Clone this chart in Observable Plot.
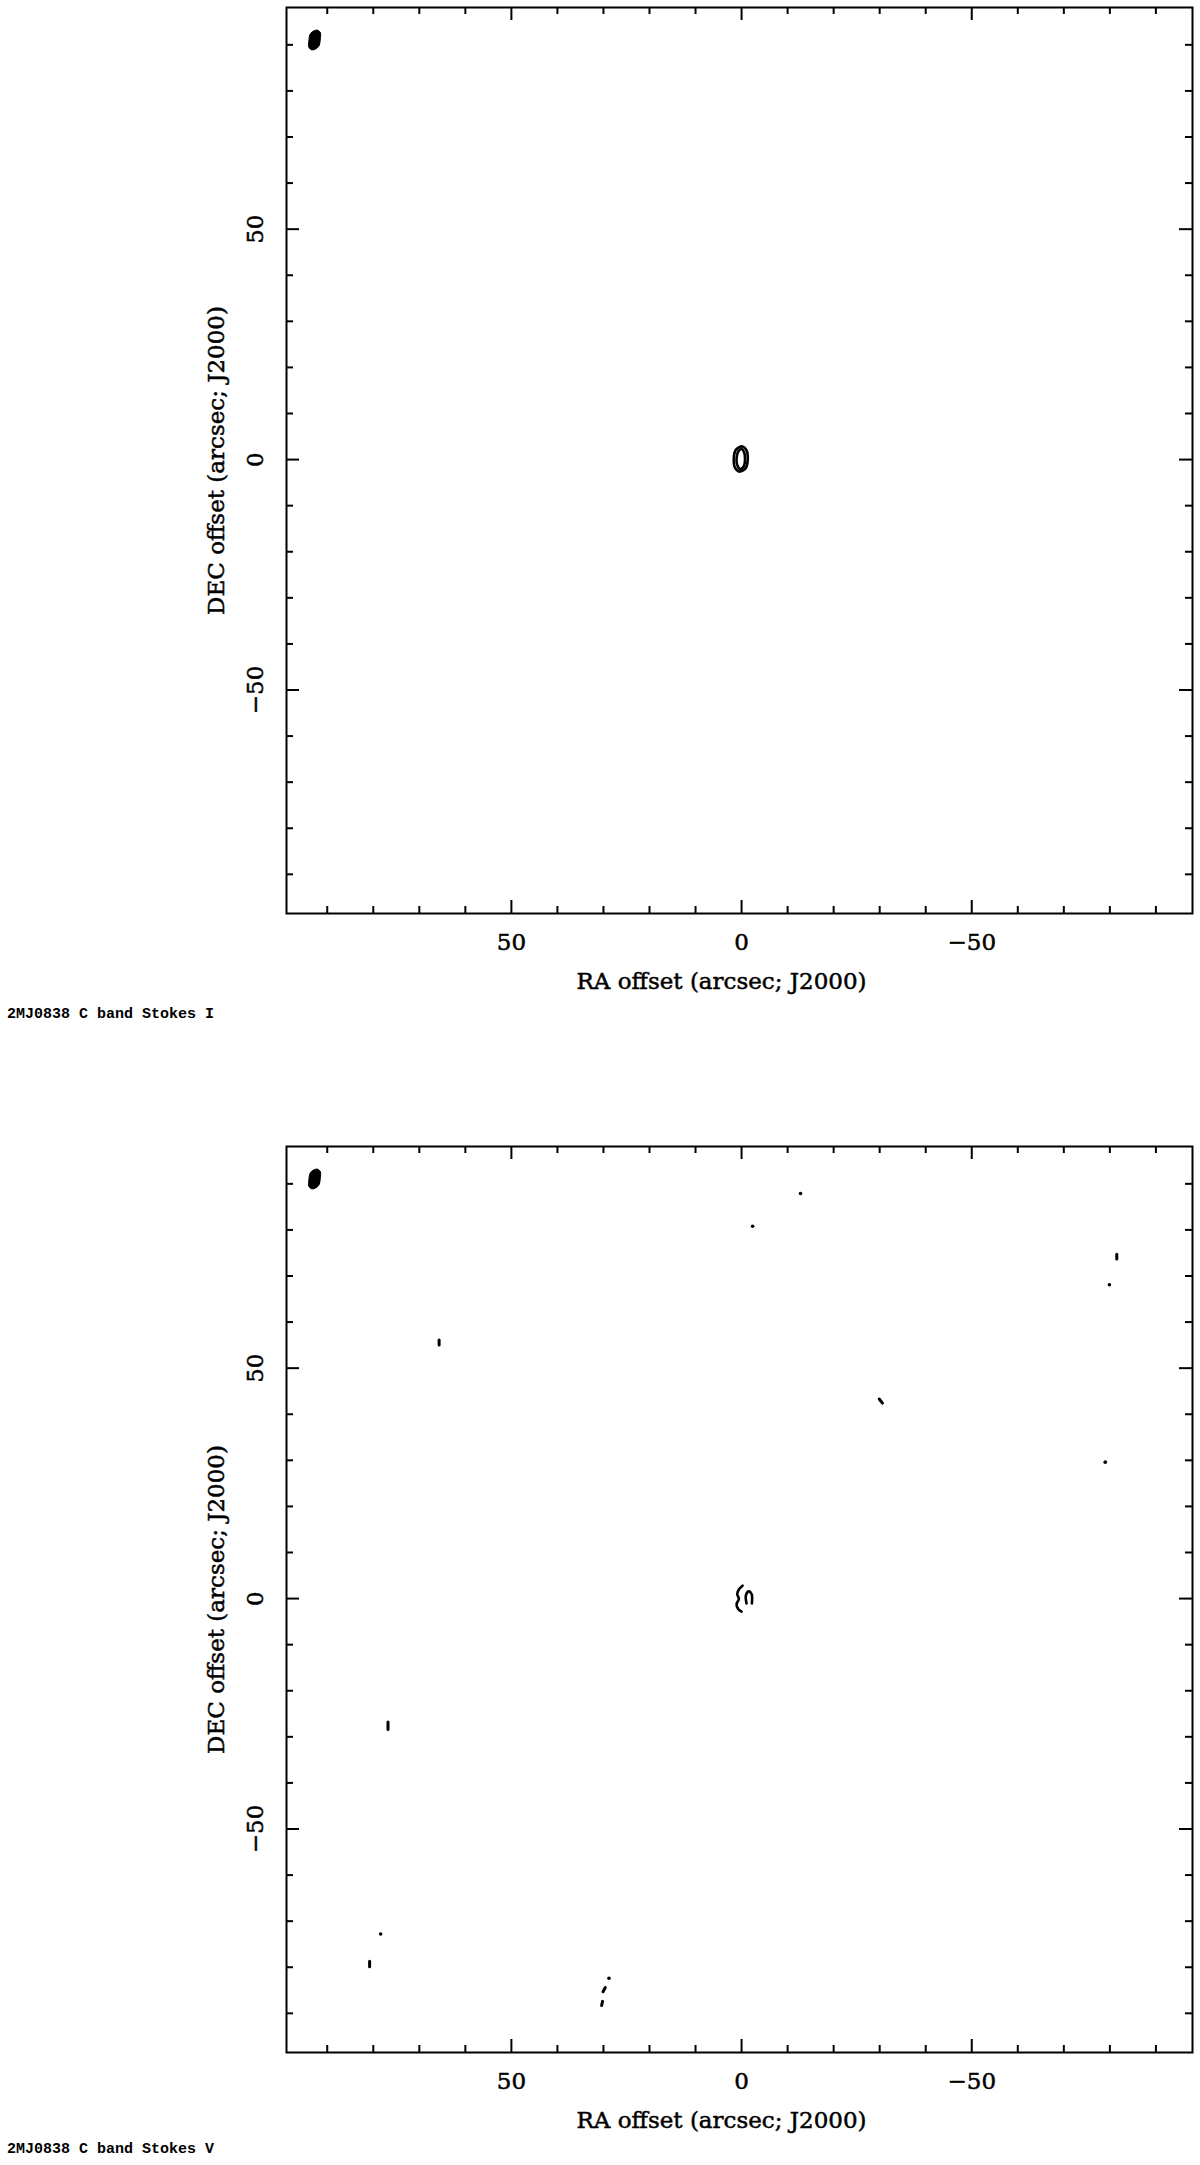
<!DOCTYPE html>
<html>
<head>
<meta charset="utf-8">
<script src="https://cdn.jsdelivr.net/npm/d3@7"></script>
<script src="https://cdn.jsdelivr.net/npm/@observablehq/plot@0.6"></script>
<style>
html, body { margin: 0; padding: 0; background: #fff; }
#page { position: relative; width: 1200px; height: 2165px; overflow: hidden; background: #fff; }
.panel { position: absolute; left: 0; }
.caption { position: absolute; left: 7px; font-family: "Liberation Mono", "DejaVu Sans Mono", monospace; font-weight: bold; font-size: 15px; line-height: 18px; color: #000; white-space: pre; }
</style>
</head>
<body>
<div id="page"></div>
<script>
// ---------- text ----------
const panelTitles = ["2MJ0838 C band Stokes I", "2MJ0838 C band Stokes V"];
const xLabel = "RA offset (arcsec; J2000)";
const yLabel = "DEC offset (arcsec; J2000)";

// ---------- axes ----------
const xDomain = [98.85, -97.95];   // RA offset runs right-to-left
const yDomain = [-98.5, 98.1];
const majorTicks = [50, 0, -50];
const minorTicks = [90, 80, 70, 60, 40, 30, 20, 10, -10, -20, -30, -40, -60, -70, -80, -90];

// ---------- contours (vertices, arcsec) ----------
// synthesized beam (filled), same in both panels
const beamX = [92.2, 91.5, 91.5, 91.9, 93.3, 94.0, 94.0, 93.6];
const beamY = [93.2, 92.6, 91.3, 89.6, 88.9, 89.5, 90.8, 92.5];

// Stokes I source at the phase centre: two nested contours
const srcOuterX = [-0.15, -1.05, -1.35, -0.9, 0.5, 1.4, 1.7, 1.25];
const srcOuterY = [2.85, 2.05, 0.2, -1.85, -2.6, -1.8, 0.1, 2.1];
const srcInnerX = [0.0, -0.55, -0.75, -0.45, 0.35, 0.9, 1.1, 0.75];
const srcInnerY = [2.3, 1.6, 0.2, -1.5, -2.05, -1.3, 0.1, 1.7];

// Stokes V central feature: open contour strokes
const vLeftX = [-0.22, 0.52, 0.95, 0.59, 1.09, 0.74, 0.0];
const vLeftY = [2.8, 2.08, 1.0, -0.09, -1.17, -2.26, -2.84];
const vRightX = [-1.08, -0.93, -1.52, -2.17, -2.24];
const vRightY = [-1.04, 0.63, 1.56, 1.0, -1.04];

// Stokes V small noise spots (round)
const spotX = [-12.8, -2.4, -79.9, -79.0, 78.4, 28.8];
const spotY = [87.9, 80.8, 68.1, 29.6, -72.8, -82.4];

// Stokes V small elongated spots (segment ends)
const streakX1 = [-81.5, -29.9, 65.7, 76.8, 80.8, 29.6, 30.2];
const streakY1 = [74.7, 43.3, 56.1, -26.8, -78.7, -84.4, -87.4];
const streakX2 = [-81.5, -30.6, 65.7, 76.8, 80.8, 30.1, 30.4];
const streakY2 = [73.7, 42.4, 55.0, -28.4, -79.9, -85.3, -88.3];

// ---------- helpers ----------
const FRAME = 906;               // frame size in px
const SERIF = "DejaVu Serif";
const FS = 23;
const fmt = d => (d < 0 ? "\u2212" + Math.abs(d) : String(d));
const textStyle = {fontFamily: SERIF, fontSize: FS, fill: "black", stroke: "black", strokeWidth: 0.5};

function contour(id, xs, ys) {
  return xs.map((x, i) => ({id, x, y: ys[i]}));
}

function axesMarks() {
  const t = 2;
  return [
    Plot.frame({stroke: "black", strokeWidth: 2}),
    // ticks, drawn inward on all four sides
    Plot.tickX(minorTicks, {x: d => d, insetBottom: FRAME - 7, strokeWidth: t}),
    Plot.tickX(minorTicks, {x: d => d, insetTop: FRAME - 7, strokeWidth: t}),
    Plot.tickX(majorTicks, {x: d => d, insetBottom: FRAME - 13, strokeWidth: t}),
    Plot.tickX(majorTicks, {x: d => d, insetTop: FRAME - 13, strokeWidth: t}),
    Plot.tickY(minorTicks, {y: d => d, insetRight: FRAME - 7, strokeWidth: t}),
    Plot.tickY(minorTicks, {y: d => d, insetLeft: FRAME - 7, strokeWidth: t}),
    Plot.tickY(majorTicks, {y: d => d, insetRight: FRAME - 13, strokeWidth: t}),
    Plot.tickY(majorTicks, {y: d => d, insetLeft: FRAME - 13, strokeWidth: t}),
    // tick labels
    Plot.text(majorTicks, {x: d => d, frameAnchor: "bottom", dy: 36, text: fmt, ...textStyle}),
    Plot.text(majorTicks, {y: d => d, frameAnchor: "left", dx: -31, rotate: -90, text: fmt,
      textAnchor: "middle", ...textStyle}),
    // axis labels
    Plot.text([xLabel], {frameAnchor: "bottom", dy: 75, dx: -18, text: d => d, ...textStyle}),
    Plot.text([yLabel], {frameAnchor: "left", dx: -70, rotate: -90, text: d => d,
      textAnchor: "middle", ...textStyle})
  ];
}

function makePanel(marks) {
  return Plot.plot({
    width: 1200,
    height: 1000,
    marginLeft: 286,
    marginRight: 8,
    marginTop: 7,
    marginBottom: 87,
    style: {background: "white", color: "black", fontFamily: SERIF, fontSize: FS + "px", overflow: "visible"},
    x: {domain: xDomain, axis: null},
    y: {domain: yDomain, axis: null},
    marks: [...axesMarks(), ...marks]
  });
}

const beamRows = contour("beam", beamX, beamY);

// Panel I
const panelI = makePanel([
  Plot.line(beamRows, {x: "x", y: "y", z: "id", curve: "catmull-rom-closed", fill: "black", stroke: "black", strokeWidth: 1}),
  Plot.line([...contour("outer", srcOuterX, srcOuterY), ...contour("inner", srcInnerX, srcInnerY)],
    {x: "x", y: "y", z: "id", curve: "catmull-rom-closed", fill: "none", stroke: "black", strokeWidth: 2.6})
]);

// Panel V
const spots = spotX.map((x, i) => ({x, y: spotY[i]}));
const streaks = streakX1.map((x1, i) => ({x1, y1: streakY1[i], x2: streakX2[i], y2: streakY2[i]}));
const panelV = makePanel([
  Plot.line(beamRows, {x: "x", y: "y", z: "id", curve: "catmull-rom-closed", fill: "black", stroke: "black", strokeWidth: 1}),
  Plot.line([...contour("left", vLeftX, vLeftY), ...contour("right", vRightX, vRightY)],
    {x: "x", y: "y", z: "id", curve: "catmull-rom", fill: "none", stroke: "black", strokeWidth: 2.6, strokeLinecap: "round"}),
  Plot.dot(spots, {x: "x", y: "y", r: 1.8, fill: "black", stroke: null}),
  Plot.link(streaks, {x1: "x1", y1: "y1", x2: "x2", y2: "y2", stroke: "black", strokeWidth: 3, strokeLinecap: "round"})
]);

const page = document.getElementById("page");
function place(el, top) {
  el.classList.add("panel");
  el.style.top = top + "px";
  page.appendChild(el);
}
place(panelI, 0);
place(panelV, 1139);

function caption(text, top) {
  const d = document.createElement("div");
  d.className = "caption";
  d.style.top = top + "px";
  d.textContent = text;
  page.appendChild(d);
}
caption(panelTitles[0], 1006);
caption(panelTitles[1], 2141);
</script>
</body>
</html>
